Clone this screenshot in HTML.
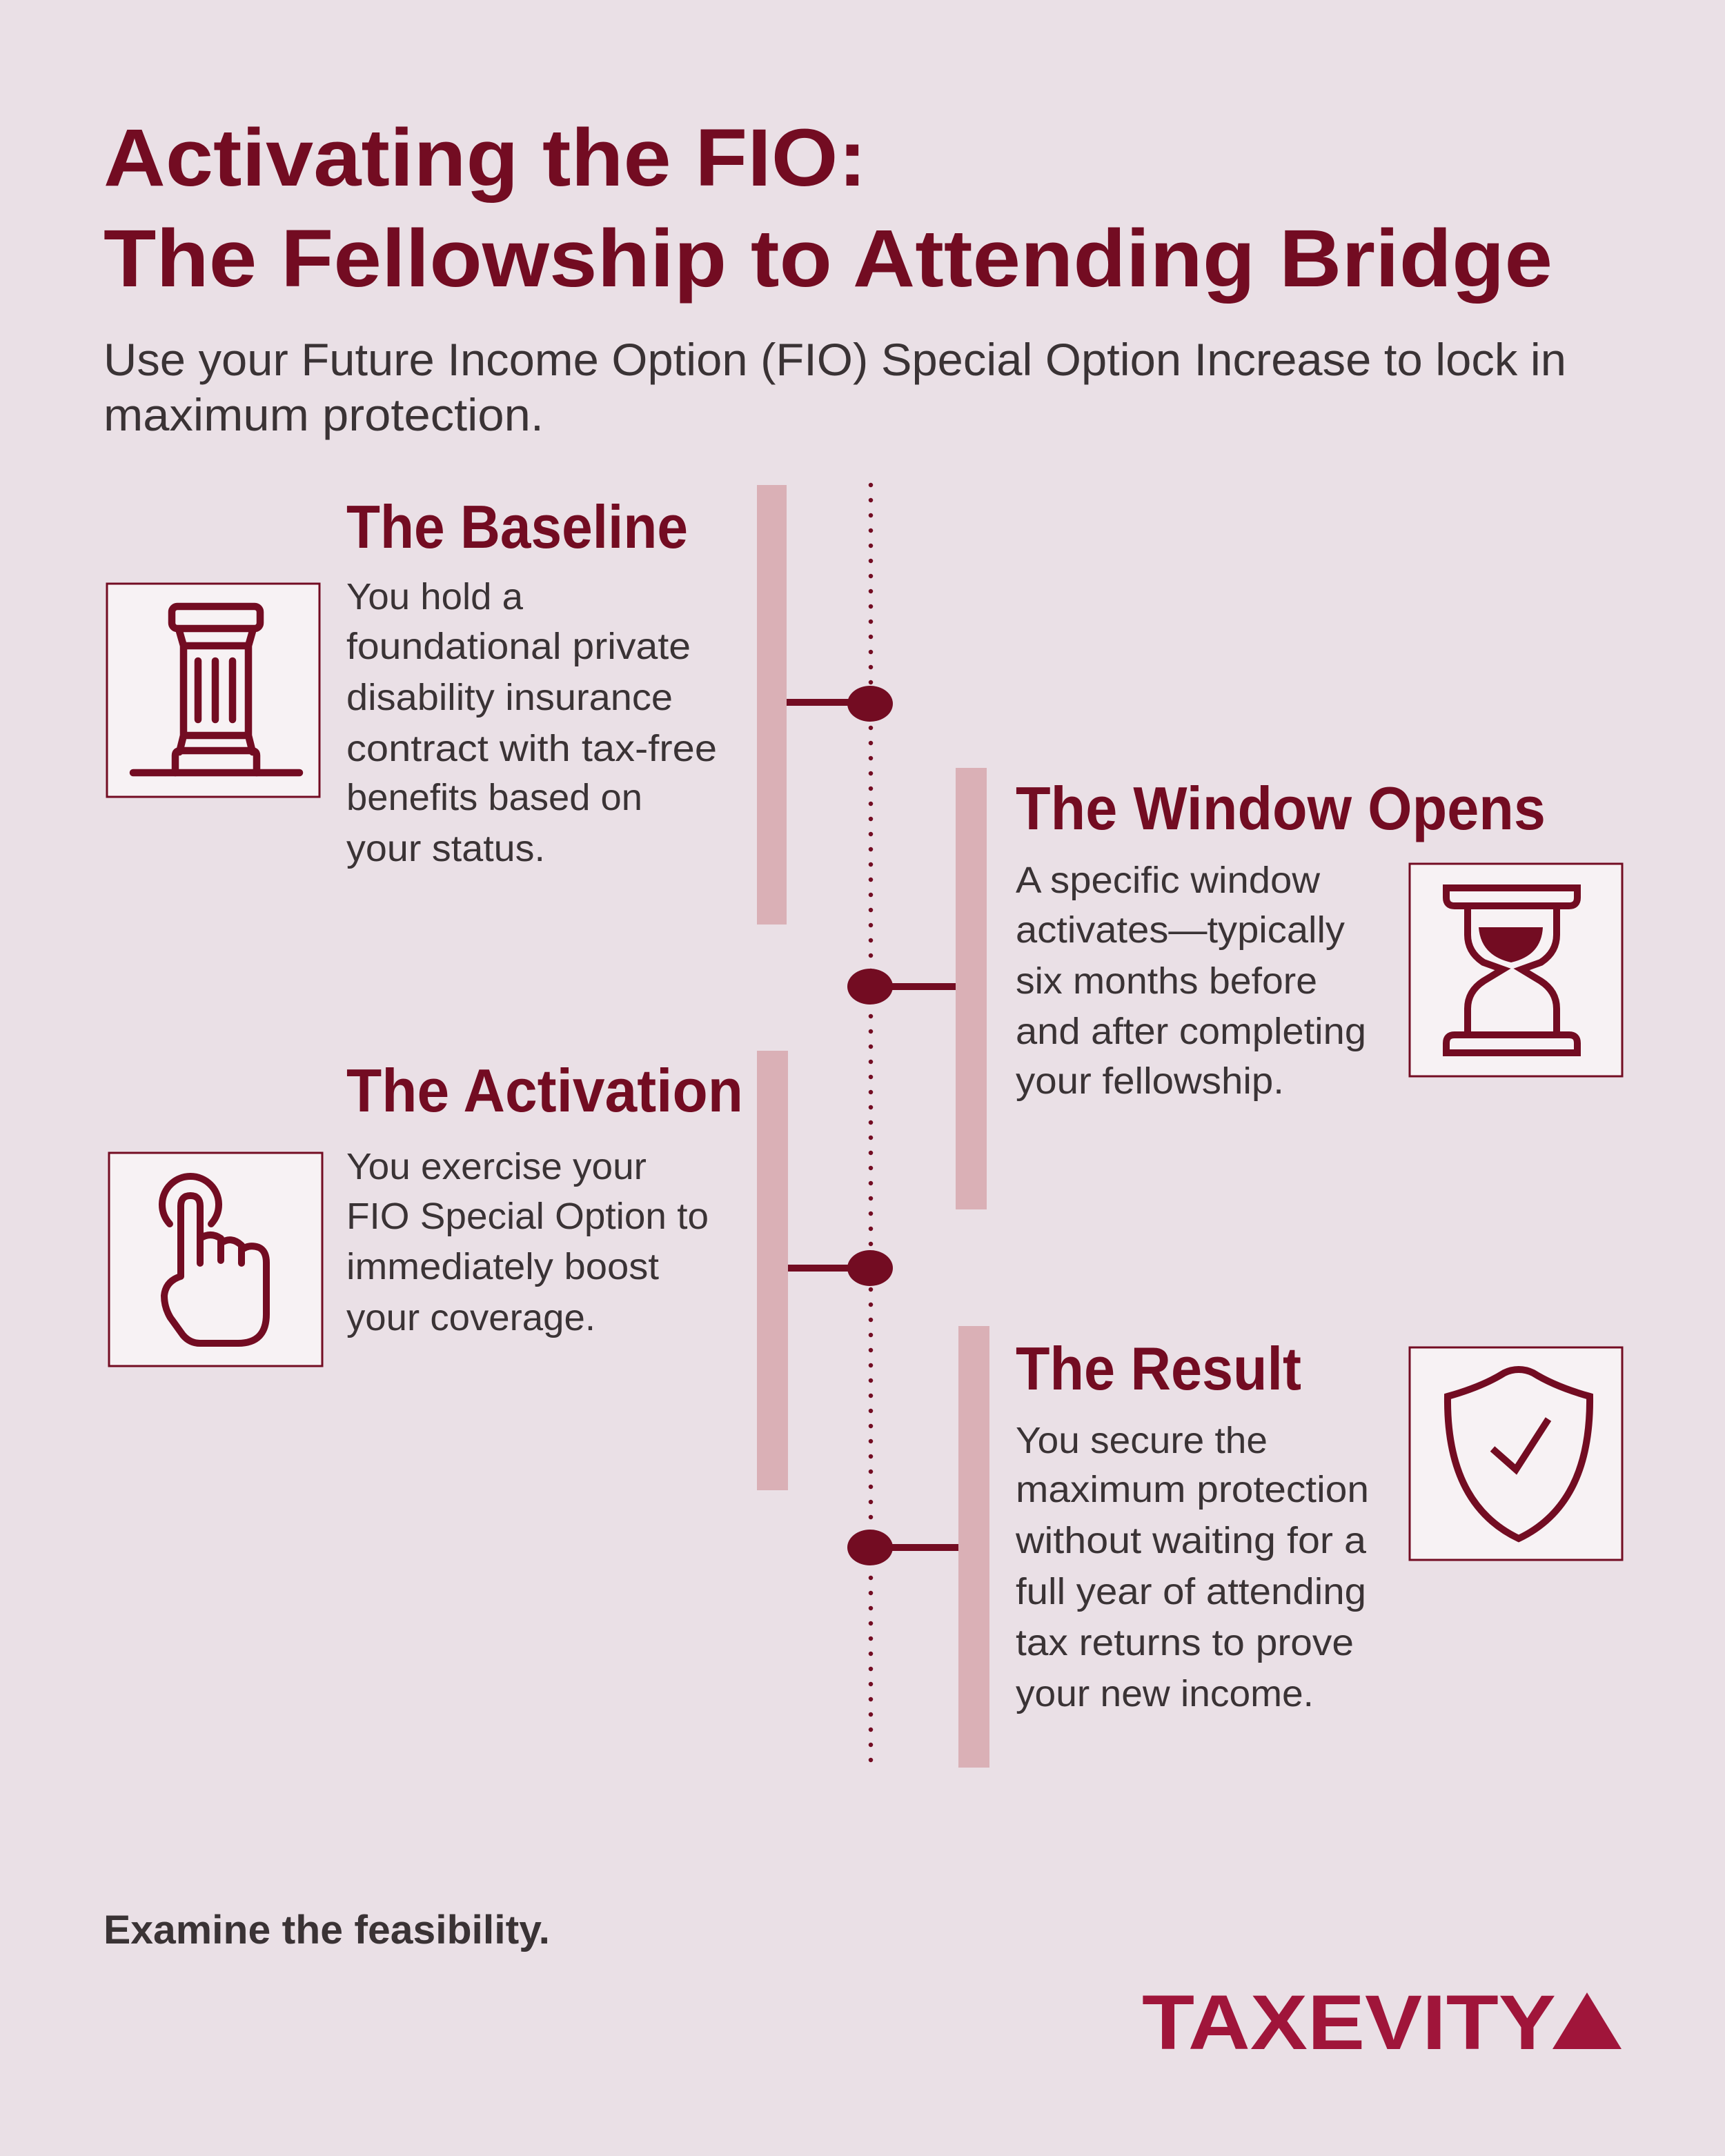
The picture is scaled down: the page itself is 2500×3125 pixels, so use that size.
<!DOCTYPE html>
<html><head><meta charset="utf-8"><style>html,body{margin:0;padding:0;background:#eae0e6}svg{display:block}</style></head>
<body>
<svg width="2500" height="3125" viewBox="0 0 2500 3125" xmlns="http://www.w3.org/2000/svg">
<rect width="2500" height="3125" fill="#eae0e6"/>
<g font-family="Liberation Sans, sans-serif" fill="#730c22" font-weight="bold">
<text x="150" y="269" font-size="118" textLength="1106" lengthAdjust="spacingAndGlyphs">Activating the FIO:</text>
<text x="150" y="415" font-size="118" textLength="2100" lengthAdjust="spacingAndGlyphs">The Fellowship to Attending Bridge</text>
</g>
<g font-family="Liberation Sans, sans-serif" fill="#3a3335" font-size="66">
<text x="150" y="544" textLength="2120" lengthAdjust="spacingAndGlyphs">Use your Future Income Option (FIO) Special Option Increase to lock in</text>
<text x="150" y="624" textLength="638" lengthAdjust="spacingAndGlyphs">maximum protection.</text>
</g>
<line x1="1262" y1="703" x2="1262" y2="2565" stroke="#730c22" stroke-width="6.5" stroke-linecap="round" stroke-dasharray="0 22"/>
<g fill="#dab0b6">
<rect x="1097" y="703" width="43" height="637"/>
<rect x="1385" y="1113" width="45" height="640"/>
<rect x="1097" y="1523" width="45" height="637"/>
<rect x="1389" y="1922" width="45" height="640"/>
</g>
<g fill="#730c22">
<rect x="1140" y="1013" width="95" height="10"/>
<ellipse cx="1261" cy="1020" rx="33" ry="26"/>
<rect x="1285" y="1425" width="100" height="10"/>
<ellipse cx="1261" cy="1430" rx="33" ry="26"/>
<rect x="1142" y="1833" width="95" height="10"/>
<ellipse cx="1261" cy="1838" rx="33" ry="26"/>
<rect x="1285" y="2238" width="104" height="10"/>
<ellipse cx="1261" cy="2243" rx="33" ry="26"/>
</g>
<g fill="#f7f2f4" stroke="#730c22" stroke-width="3">
<rect x="155" y="846" width="308" height="309"/>
<rect x="2043" y="1252" width="308" height="308"/>
<rect x="158" y="1671" width="309" height="309"/>
<rect x="2043" y="1953" width="308" height="308"/>
</g>
<g fill="none" stroke="#730c22" stroke-width="10.5" stroke-linecap="round" stroke-linejoin="round">
<rect x="249" y="879" width="128" height="32" rx="8"/>
<path d="M260 915 L266 936 L266 1066 L260 1090 M366 915 L360 936 L360 1066 L366 1090 M266 936 H360 M266 1066 H360"/>
<path d="M254 1120 V1095 Q254 1088 262 1088 H364 Q372 1088 372 1095 V1120"/>
<line x1="193" y1="1120" x2="434" y2="1120"/>
<line x1="287" y1="958" x2="287" y2="1043"/>
<line x1="312" y1="958" x2="312" y2="1043"/>
<line x1="337" y1="958" x2="337" y2="1043"/>
</g>
<g fill="none" stroke="#730c22" stroke-width="10">
<path d="M2096 1287 H2286 V1301 Q2286 1313 2274 1313 H2108 Q2096 1313 2096 1301 Z"/>
<path d="M2096 1526 H2286 V1512 Q2286 1500 2274 1500 H2108 Q2096 1500 2096 1512 Z"/>
<path d="M2127 1313 V1355 Q2127 1380 2150 1395 L2178 1405 L2150 1422 Q2127 1437 2127 1462 V1500 M2256 1313 V1355 Q2256 1380 2233 1395 L2205 1405 L2233 1422 Q2256 1437 2256 1462 V1500"/>
</g>
<path d="M2143 1344 H2236 Q2234 1385 2190 1395 Q2146 1385 2143 1344 Z" fill="#730c22"/>
<g fill="none" stroke="#730c22" stroke-width="10" stroke-linecap="round" stroke-linejoin="round">
<path d="M246 1774 A41 41 0 1 1 306 1774"/>
<path d="M262 1850 V1748 Q262 1733 276 1733 Q290 1733 290 1748 V1831 V1795 Q305 1785 320 1795 V1827 V1802 Q335 1791 350 1805 V1831 V1812 Q360 1803 375 1808 Q386 1813 386 1830 V1905 Q386 1947 345 1947 H290 Q275 1947 265 1935 L247 1910 Q238 1895 238 1878 Q240 1857 262 1850"/>
</g>
<g fill="none" stroke="#730c22" stroke-width="10">
<path d="M2201 1985 Q2212 1985 2222 1990 Q2254 2010 2304 2024 Q2306 2180 2201 2230 Q2096 2180 2098 2024 Q2148 2010 2180 1990 Q2190 1985 2201 1985 Z"/>
<path d="M2163 2100 L2197 2130 L2244 2057"/>
</g>
<g font-family="Liberation Sans, sans-serif" fill="#730c22" font-weight="bold" font-size="88">
<text x="502" y="794" textLength="495" lengthAdjust="spacingAndGlyphs">The Baseline</text>
<text x="1472" y="1202" textLength="768" lengthAdjust="spacingAndGlyphs">The Window Opens</text>
<text x="502" y="1611" textLength="575" lengthAdjust="spacingAndGlyphs">The Activation</text>
<text x="1472" y="2014" textLength="414" lengthAdjust="spacingAndGlyphs">The Result</text>
</g>
<g font-family="Liberation Sans, sans-serif" fill="#3a3335" font-size="54">
<text x="502" y="883" textLength="256" lengthAdjust="spacingAndGlyphs">You hold a</text>
<text x="502" y="955" textLength="499" lengthAdjust="spacingAndGlyphs">foundational private</text>
<text x="502" y="1029" textLength="473" lengthAdjust="spacingAndGlyphs">disability insurance</text>
<text x="502" y="1103" textLength="537" lengthAdjust="spacingAndGlyphs">contract with tax-free</text>
<text x="502" y="1174" textLength="429" lengthAdjust="spacingAndGlyphs">benefits based on</text>
<text x="502" y="1248" textLength="288" lengthAdjust="spacingAndGlyphs">your status.</text>
<text x="1472" y="1294" textLength="441" lengthAdjust="spacingAndGlyphs">A specific window</text>
<text x="1472" y="1366" textLength="477" lengthAdjust="spacingAndGlyphs">activates—typically</text>
<text x="1472" y="1440" textLength="437" lengthAdjust="spacingAndGlyphs">six months before</text>
<text x="1472" y="1513" textLength="508" lengthAdjust="spacingAndGlyphs">and after completing</text>
<text x="1472" y="1585" textLength="389" lengthAdjust="spacingAndGlyphs">your fellowship.</text>
<text x="502" y="1709" textLength="435" lengthAdjust="spacingAndGlyphs">You exercise your</text>
<text x="502" y="1781" textLength="525" lengthAdjust="spacingAndGlyphs">FIO Special Option to</text>
<text x="502" y="1854" textLength="453" lengthAdjust="spacingAndGlyphs">immediately boost</text>
<text x="502" y="1928" textLength="361" lengthAdjust="spacingAndGlyphs">your coverage.</text>
<text x="1472" y="2106" textLength="365" lengthAdjust="spacingAndGlyphs">You secure the</text>
<text x="1472" y="2177" textLength="512" lengthAdjust="spacingAndGlyphs">maximum protection</text>
<text x="1472" y="2251" textLength="508" lengthAdjust="spacingAndGlyphs">without waiting for a</text>
<text x="1472" y="2325" textLength="508" lengthAdjust="spacingAndGlyphs">full year of attending</text>
<text x="1472" y="2399" textLength="490" lengthAdjust="spacingAndGlyphs">tax returns to prove</text>
<text x="1472" y="2473" textLength="432" lengthAdjust="spacingAndGlyphs">your new income.</text>
</g>
<text x="150" y="2817" font-family="Liberation Sans, sans-serif" font-weight="bold" font-size="58" fill="#3a3335" textLength="647" lengthAdjust="spacingAndGlyphs">Examine the feasibility.</text>
<text x="1655" y="2970" font-family="Liberation Sans, sans-serif" font-weight="bold" font-size="112" fill="#a0153a" textLength="600" lengthAdjust="spacingAndGlyphs">TAXEVITY</text>
<polygon points="2300,2888 2350,2970 2250,2970" fill="#a0153a"/>
<text x="1810" y="3148" font-family="Liberation Sans, sans-serif" font-size="30" fill="#ffffff">Source: FIO Fellowship to Attending Bridge Guide</text>
</svg>
</body></html>
